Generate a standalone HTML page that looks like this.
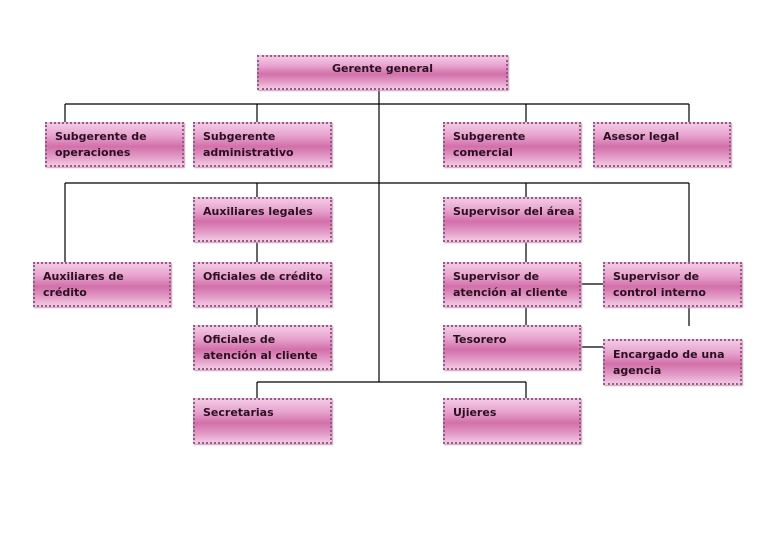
<!DOCTYPE html>
<html><head><meta charset="utf-8"><style>
body{margin:0;width:767px;height:541px;background:#fff;position:relative;overflow:hidden;font-family:"DejaVu Sans","Liberation Sans",sans-serif;}
.b{position:absolute;box-sizing:border-box;border:2px dotted #9a5a86;background:linear-gradient(#f3c8e4 0%,#e6a0cc 30%,#d270aa 55%,#e29ac6 80%,#f1c6e2 100%);box-shadow:1px 1px 1px #c9a0bc;font-size:11px;font-weight:bold;color:#2a1020;padding:5px 0 0 8px;line-height:16px;}
svg{position:absolute;left:0;top:0}
</style></head><body>
<svg width="767" height="541"><g stroke="#000" stroke-width="1.2" fill="none">
<path d="M379 89V382M65 104H689M65 104V122M257 104V122M526 104V122M689 104V122"/>
<path d="M65 183H689M65 183V262M257 183V197M526 183V197M689 183V262"/>
<path d="M257 242V262M257 307V325M526 242V262M526 307V325M581 284H603M581 347H603M689 307V326"/>
<path d="M257 382H526M257 382V398M526 382V398"/>
</g></svg>
<div class="b" style="left:257px;top:55px;width:251px;height:35px;padding:4px 0 0 0;text-align:center">Gerente general</div>
<div class="b" style="left:45px;top:122px;width:139px;height:45px">Subgerente de<br>operaciones</div>
<div class="b" style="left:193px;top:122px;width:139px;height:45px">Subgerente<br>administrativo</div>
<div class="b" style="left:443px;top:122px;width:138px;height:45px">Subgerente<br>comercial</div>
<div class="b" style="left:593px;top:122px;width:138px;height:45px">Asesor legal</div>
<div class="b" style="left:193px;top:197px;width:139px;height:45px">Auxiliares legales</div>
<div class="b" style="left:443px;top:197px;width:138px;height:45px">Supervisor del área</div>
<div class="b" style="left:33px;top:262px;width:138px;height:45px">Auxiliares de<br>crédito</div>
<div class="b" style="left:193px;top:262px;width:139px;height:45px">Oficiales de crédito</div>
<div class="b" style="left:443px;top:262px;width:138px;height:45px">Supervisor de<br>atención al cliente</div>
<div class="b" style="left:603px;top:262px;width:139px;height:45px">Supervisor de<br>control interno</div>
<div class="b" style="left:193px;top:325px;width:139px;height:45px">Oficiales de<br>atención al cliente</div>
<div class="b" style="left:443px;top:325px;width:138px;height:45px">Tesorero</div>
<div class="b" style="left:603px;top:339px;width:139px;height:46px;padding-top:6px">Encargado de una<br>agencia</div>
<div class="b" style="left:193px;top:398px;width:139px;height:46px">Secretarias</div>
<div class="b" style="left:443px;top:398px;width:138px;height:46px">Ujieres</div>
</body></html>
